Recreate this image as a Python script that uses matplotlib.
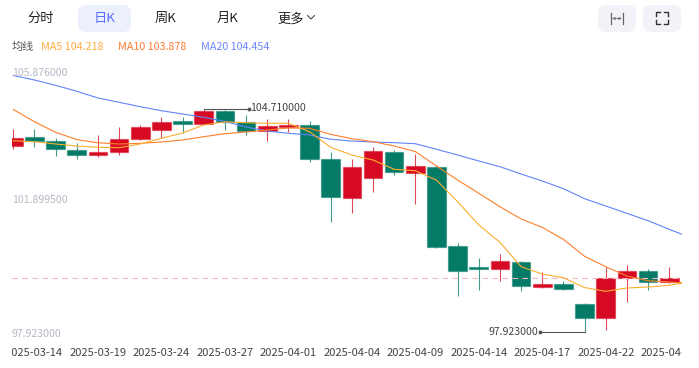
import matplotlib
matplotlib.use('Agg')
import matplotlib.pyplot as plt
from matplotlib.patches import FancyBboxPatch
from matplotlib.transforms import Bbox, TransformedBbox, IdentityTransform

plt.rcParams['font.family'] = ['Noto Sans CJK SC', 'DejaVu Sans']

# daily candles
opens = [103.592, 103.848, 103.726, 103.461, 103.300, 103.392, 103.796, 104.061,
         104.335, 104.253, 104.657, 104.304, 104.031, 104.152, 104.222, 103.197,
         102.010, 102.619, 103.410, 102.771, 102.953, 100.531, 99.910, 99.831,
         100.062, 99.293, 99.384, 98.784, 98.349, 99.566, 99.779, 99.436]
closes = [103.836, 103.735, 103.483, 103.309, 103.392, 103.796, 104.152, 104.304,
          104.244, 104.648, 104.323, 104.031, 104.192, 104.222, 103.179, 102.022,
          102.935, 103.440, 102.783, 102.965, 100.519, 99.789, 99.831, 100.075,
          99.314, 99.384, 99.241, 98.349, 99.566, 99.770, 99.436, 99.576]
highs = [104.101, 104.101, 103.827, 103.684, 103.918, 104.152, 104.231, 104.466,
         104.475, 104.710, 104.679, 104.527, 104.405, 104.405, 104.335, 103.401,
         103.188, 103.553, 103.461, 103.340, 102.975, 100.632, 100.175, 100.297,
         100.084, 99.749, 99.466, 98.806, 99.910, 99.953, 99.840, 99.901]
lows = [103.501, 103.562, 103.288, 103.197, 103.258, 103.319, 103.757, 103.818,
        103.988, 104.240, 104.085, 103.909, 103.745, 104.009, 103.105, 101.261,
        101.535, 102.174, 102.710, 101.827, 100.489, 99.019, 99.201, 99.484,
        99.180, 99.271, 99.210, 97.923, 97.993, 98.845, 99.210, 99.414]

# moving averages (one more point than candles, it runs off the right edge)
ma5 = [103.744, 103.714, 103.644, 103.582, 103.544, 103.531, 103.644, 103.818,
       103.979, 104.222, 104.317, 104.292, 104.274, 104.274, 104.018, 103.544,
       103.309, 103.157, 102.874, 102.831, 102.543, 101.887, 101.179, 100.653,
       99.910, 99.688, 99.576, 99.275, 99.162, 99.262, 99.293, 99.344, 99.450]
ma10 = [104.695, 104.322, 104.000, 103.780, 103.681, 103.644, 103.664, 103.705,
        103.766, 103.866, 103.957, 104.009, 104.070, 104.131, 104.122, 103.939,
        103.805, 103.714, 103.583, 103.414, 102.975, 102.548, 102.144, 101.735,
        101.362, 101.108, 100.743, 100.226, 99.910, 99.627, 99.482, 99.445, 99.400]
ma20 = [105.729, 105.592, 105.430, 105.248, 105.044, 104.913, 104.779, 104.657,
        104.557, 104.457, 104.329, 104.161, 104.040, 103.970, 103.918, 103.787,
        103.735, 103.705, 103.684, 103.653, 103.483, 103.309, 103.127, 102.953,
        102.731, 102.518, 102.284, 101.980, 101.757, 101.535, 101.310, 101.048, 100.799]

date_labels = ['2025-03-14', '2025-03-19', '2025-03-24', '2025-03-27', '2025-04-01',
               '2025-04-04', '2025-04-09', '2025-04-14', '2025-04-17', '2025-04-22',
               '2025-04-25']
date_idx = [1, 4, 7, 10, 13, 16, 19, 22, 25, 28, 31]
y_labels = [105.876, 101.8995, 97.923]
y_label_shift = [-2.3, 1, -1.5]

tabs = ['分时', '日K', '周K', '月K', '更多']
tab_x = [41, 105, 166, 228, 291]
legend = [('MA5 104.218', 41, '#ffab40'), ('MA10 103.878', 118, '#ff7a33'), ('MA20 104.454', 201, '#6e86ff')]

UP = '#d60a22'
DOWN = '#037b66'

fig = plt.figure(figsize=(6.99, 3.68), dpi=100)

# page layer in pixels
ui = fig.add_axes([0, 0, 1, 1])
ui.set_xlim(0, 699)
ui.set_ylim(368, 0)
ui.axis('off')

def button(x, y, w, h, color):
    ui.add_patch(FancyBboxPatch((x + 8, y + 8), w - 16, h - 16, boxstyle='round,pad=8',
                                fc=color, ec='none'))

button(78, 5, 53, 27, '#ecf0fd')
button(598, 5, 38, 27, '#f2f3f8')
button(643, 5, 38, 27, '#f2f3f8')

for name, x in zip(tabs, tab_x):
    col = '#5b6cff' if name == '日K' else '#222222'
    ui.text(x, 18.8, name, ha='center', va='center', fontsize=9.5, color=col)

# chevron next to 更多
ui.plot([307.5, 311, 314.5], [15.5, 19, 15.5], color='#333333', lw=0.7)

# expand icon
ui.plot([611, 611], [13, 24], color='#666666', lw=0.9)
ui.plot([623, 623], [13, 24], color='#666666', lw=0.9)
ui.annotate('', xy=(612, 18.5), xytext=(622, 18.5),
            arrowprops=dict(arrowstyle='<->', color='#777777', lw=0.7, mutation_scale=4, shrinkA=0, shrinkB=0))

# fullscreen icon corners
for cx, cy, dx, dy in [(656, 12, 1, 1), (668, 12, -1, 1), (656, 24, 1, -1), (668, 24, -1, -1)]:
    ui.plot([cx + 4 * dx, cx, cx], [cy, cy, cy + 4 * dy], color='#333333', lw=1.0)

ui.text(12, 46.8, '均线', ha='left', va='center', fontsize=8, color='#555555')
for txt, x, col in legend:
    ui.text(x, 46.8, txt, ha='left', va='center', fontsize=7.75, color=col)

# chart, axes limits follow the pixel box 12..681.5 / 60..340
ax = fig.add_axes([12 / 699, (368 - 340) / 368, 669.5 / 699, 280 / 368])
ax.patch.set_alpha(0)
ax.set_xlim(-0.061, 31.58)
ax.set_ylim(97.680, 106.200)
for s in ax.spines.values():
    s.set_visible(False)
ax.set_yticks([])

xs = list(range(len(opens)))
for i in xs:
    col = UP if closes[i] >= opens[i] else DOWN
    ax.vlines(i, lows[i], highs[i], color=col, lw=0.8, alpha=0.75, zorder=2)
    ax.bar(i, abs(closes[i] - opens[i]), bottom=min(opens[i], closes[i]), width=0.88,
           color=col, edgecolor=matplotlib.colors.to_rgba(col, 0.45), lw=0.9, zorder=3)

ax.axhline(closes[-1], color='#f2b8bd', lw=0.8, ls=(0, (5, 4)), zorder=4)

xm = list(range(len(ma20)))
ax.plot(xm, ma20, color='#6482fa', lw=0.8, zorder=5)
ax.plot(xm, ma10, color='#ff7f2a', lw=0.8, zorder=6)
ax.plot(xm, ma5, color='#fbae30', lw=0.8, zorder=7)

for v, sh in zip(y_labels, y_label_shift):
    ax.annotate(f'{v:.6f}', (0, v), xycoords=('axes fraction', 'data'), xytext=(0, sh * 0.72),
                textcoords='offset points', ha='left', va='center', fontsize=7.6, color='#b4b8c4', zorder=8)

# highest / lowest markers
hi = highs.index(max(highs))
lo = lows.index(min(lows))
ax.plot([hi, hi + 2.15], [highs[hi], highs[hi]], color='#555555', lw=0.8, zorder=8)
ax.plot([hi + 2.15], [highs[hi]], 'o', ms=1.8, color='#555555', zorder=8)
ax.annotate(f'{highs[hi]:.6f}', (hi + 2.15, highs[hi]), xytext=(1, 0.5), textcoords='offset points',
            ha='left', va='center', fontsize=7.6, color='#444444', zorder=8)
ax.plot([lo - 2.13, lo], [lows[lo], lows[lo]], color='#555555', lw=0.8, zorder=8)
ax.plot([lo - 2.13], [lows[lo]], 'o', ms=1.8, color='#555555', zorder=8)
ax.annotate(f'{lows[lo]:.6f}', (lo - 2.13, lows[lo]), xytext=(-1, 0), textcoords='offset points',
            ha='right', va='center', fontsize=7.6, color='#444444', zorder=8)

# dates, the first and last get cut by the chart edges
ax.set_xticks(date_idx)
ax.set_xticklabels(date_labels, fontsize=8, color='#444444')
ax.tick_params(axis='x', length=0, pad=5.5)
clip = TransformedBbox(Bbox([[12, 0], [682, 368]]), IdentityTransform())
for lab in ax.get_xticklabels():
    lab.set_clip_box(clip)
    lab.set_clip_on(True)

fig.savefig('out.png', dpi=100)
